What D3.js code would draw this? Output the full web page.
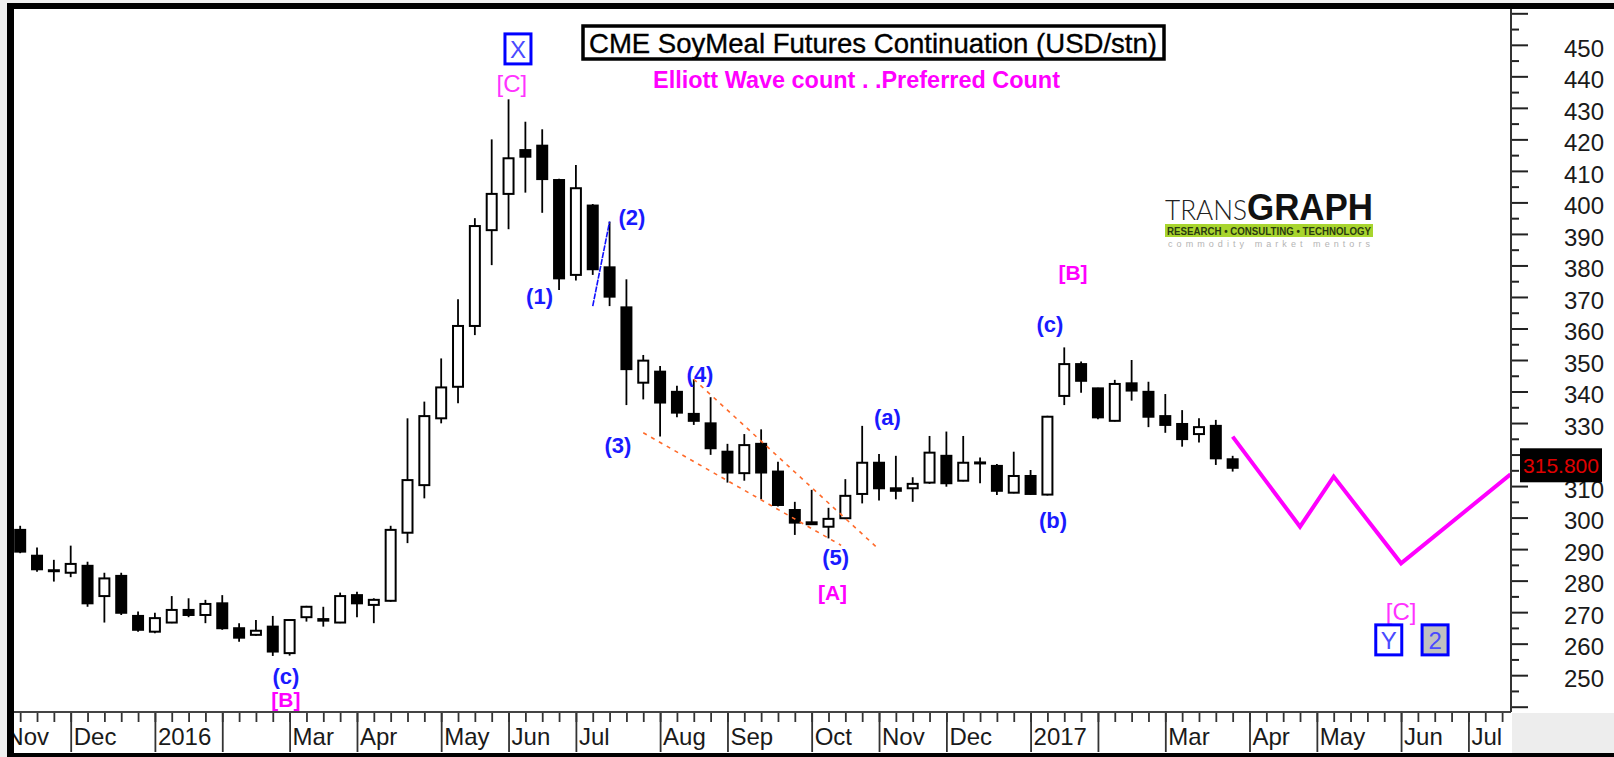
<!DOCTYPE html>
<html>
<head>
<meta charset="utf-8">
<script src="https://cdn.jsdelivr.net/npm/d3@7"></script>
<style>
body { margin: 0; background: #f0f0f0; }
svg text { font-family: "Liberation Sans", Arial, sans-serif; }
</style>
</head>
<body>
<script>
// weekly bars, week 0 = first week of Nov 2015
var firstWeek = 1;
var open  = [296.1,287.9,283.3,282.5,284.7,275.1,281.5,268.8,263.8,266.7,270.7,269.1,272.8,264.9,262.8,265.4,257.0,268.4,267.8,266.7,
             275.4,272.3,273.6,295.2,310.3,331.5,341.5,360.8,391.2,402.7,416.6,418.0,407.1,377.0,399.0,379.4,366.7,342.8,346.3,339.9,
             332.9,329.9,320.9,314.1,323.4,314.6,302.4,298.5,297.1,299.8,307.5,317.4,309.3,309.3,311.1,319.6,311.7,317.5,316.4,307.9,
             313.2,307.3,338.6,348.7,341.0,330.7,342.6,339.9,332.2,329.7,326.5,329.1,318.5];
var high  = [297.4,290.5,286.6,291.1,286.0,282.5,282.5,270.2,269.8,275.1,274.4,273.9,275.4,266.5,267.5,268.8,267.7,272.0,271.7,276.2,
             276.5,274.4,297.4,331.5,336.8,350.5,369.3,395.0,420.0,432.7,425.6,423.2,407.5,411.9,399.5,393.9,375.6,351.6,348.1,341.8,
             343.9,338.2,323.4,326.5,328.0,317.7,305.0,308.8,303.1,312.2,329.1,320.2,319.6,312.8,325.9,327.3,325.9,319.1,317.0,320.9,
             315.1,332.3,354.0,349.5,341.2,343.7,350.0,343.1,339.2,334.1,331.5,331.0,319.6];
var low   = [288.7,282.8,279.7,281.1,271.7,266.7,269.1,263.8,263.3,266.5,268.4,266.5,264.4,260.6,262.5,256.1,256.2,267.0,265.4,266.5,
             268.4,266.5,273.3,291.9,306.1,329.9,336.3,357.9,380.1,391.5,403.1,396.7,372.2,375.2,377.0,367.1,335.7,337.5,325.7,331.8,
             329.4,319.9,311.1,311.7,305.8,303.5,294.5,297.7,293.4,299.5,304.5,305.4,305.8,305.0,310.7,309.8,311.5,310.9,307.2,307.7,
             307.2,307.0,335.7,339.6,331.2,330.5,337.1,328.7,326.9,322.5,323.8,316.7,314.6];
var close = [289.2,283.6,283.2,285.3,272.8,280.7,269.8,264.4,268.1,270.7,269.1,272.6,264.9,261.9,264.1,257.5,267.5,271.7,267.3,275.1,
             272.8,273.9,296.1,311.9,332.2,341.3,360.8,392.5,402.7,414.0,414.5,407.4,375.9,404.5,378.8,370.1,347.1,349.8,336.5,333.3,
             330.7,322.0,314.3,323.0,314.3,304.0,298.4,297.9,299.6,306.9,317.4,309.3,308.5,310.7,320.6,310.9,317.4,317.3,308.5,313.2,
             307.5,332.0,348.7,343.4,331.8,342.4,340.3,332.0,329.4,324.9,328.7,318.8,315.8];
var lastPrice = 315.8;

// x axis: first bar of each month (week number) and its label
var monthWeek  = [0, 4, 9, 13, 17, 21, 26, 30, 34, 39, 43, 48, 52, 56, 61, 65, 69, 74, 78, 83, 87];
var monthLabel = ["Nov","Dec","2016","","Mar","Apr","May","Jun","Jul","Aug","Sep","Oct","Nov","Dec","2017","","Mar","Apr","May","Jun","Jul"];

// y axis (320 sits under the last price tag, so it gets no label)
var priceTicks = d3.range(240, 461, 10);
var priceMinor = d3.range(245, 460, 10);
var priceLabels = [250, 260, 270, 280, 290, 300, 310, 330, 340, 350, 360, 370, 380, 390, 400, 410, 420, 430, 440, 450];

// projected path (magenta)
var forecastWeek  = [73, 77, 79, 83, 89.5];
var forecastPrice = [325.7, 297.1, 313.0, 285.5, 313.7];

// orange channel and wave (2) line
var channelTop = [[41, 343.9], [52, 289.9]];
var channelBottom = [[38, 326.9], [49.75, 291.2]];
var wave2Line = [[35, 367.1], [36, 393.9]];

// wave labels: text, week, price (baseline), style
var waveLabels = [
  ["(1)", 31.84, 367.9, "blue"], ["(2)", 37.33, 392.7, "blue"], ["(3)", 36.5, 320.4, "blue"],
  ["(4)", 41.37, 342.9, "blue"], ["(5)", 49.43, 284.8, "blue"], ["[A]", 49.24, 273.7, "pink"],
  ["(a)", 52.5, 329.3, "blue"], ["(b)", 62.33, 296.6, "blue"], ["(c)", 62.15, 358.9, "blue"],
  ["[B]", 63.52, 375.3, "pink"], ["(c)", 16.78, 247.3, "blue"], ["[B]", 16.78, 239.8, "pink"],
  ["[C]", 30.2, 435.0, "pinkThin"], ["[C]", 83.0, 267.4, "pinkThin"]
];
// boxed degree labels: text, week, price (centre), fill
var boxLabels = [["X", 30.56, 448.7, "#ffffff"], ["Y", 82.27, 261.2, "#ffffff"], ["2", 85.02, 261.2, "#c0c0c0"]];

var W = 1614, H = 757;
var plot = {left: 14, right: 1511, top: 9, bottom: 712};

var x = d3.scaleLinear().domain([0, 89]).range([3.34, 1502.1]);
var y = d3.scaleLinear().domain([240, 460]).range([706.7, 13.3]);

var svg = d3.select("body").append("svg")
  .attr("width", W)
  .attr("height", H)
  .style("display", "block");

svg.append("rect").attr("x", 7).attr("y", 3).attr("width", W - 7).attr("height", H - 3).attr("fill", "#fff");
// grey corner under the price axis
svg.append("rect").attr("x", plot.right + 1).attr("y", plot.bottom + 1)
  .attr("width", W - plot.right).attr("height", 753 - plot.bottom - 1).attr("fill", "#ededed");

var defs = svg.append("defs");
defs.append("clipPath").attr("id", "plotClip").append("rect")
  .attr("x", plot.left).attr("y", plot.top)
  .attr("width", plot.right - plot.left).attr("height", plot.bottom - plot.top);
defs.append("clipPath").attr("id", "xAxisClip").append("rect")
  .attr("x", plot.left).attr("y", plot.bottom - 2)
  .attr("width", plot.right - plot.left).attr("height", 50);

// logo
var logo = svg.append("g");
logo.append("text").attr("x", 1165).attr("y", 220).attr("textLength", 82).attr("lengthAdjust", "spacingAndGlyphs")
  .style("font-family", "Lato, 'DejaVu Sans', sans-serif").style("font-weight", 300).style("font-size", "27px").attr("fill", "#222")
  .text("TRANS");
logo.append("text").attr("x", 1247).attr("y", 220).attr("textLength", 126).attr("lengthAdjust", "spacingAndGlyphs")
  .style("font-weight", "bold").style("font-size", "37px").attr("fill", "#111")
  .text("GRAPH");
logo.append("rect").attr("x", 1165).attr("y", 224).attr("width", 208).attr("height", 13).attr("fill", "#a8d52e");
logo.append("text").attr("x", 1167).attr("y", 234.5).attr("textLength", 204).attr("lengthAdjust", "spacingAndGlyphs")
  .style("font-weight", "bold").style("font-size", "10px").attr("fill", "#2a3a10")
  .text("RESEARCH \u2022 CONSULTING \u2022 TECHNOLOGY");
logo.append("text").attr("x", 1168).attr("y", 247).attr("textLength", 202).attr("lengthAdjust", "spacing")
  .style("font-size", "9px").attr("fill", "#b4b4b4")
  .text("commodity market mentors");

// title
svg.append("rect").attr("x", 583).attr("y", 26).attr("width", 581).attr("height", 33)
  .attr("fill", "#fff").attr("stroke", "#000").attr("stroke-width", 3.5);
svg.append("text").attr("x", 589).attr("y", 53).attr("textLength", 568).attr("lengthAdjust", "spacingAndGlyphs")
  .style("font-size", "27.5px").attr("fill", "#000")
  .attr("stroke", "#000").attr("stroke-width", 0.35)
  .text("CME SoyMeal Futures Continuation (USD/stn)");
svg.append("text").attr("x", 653).attr("y", 88).attr("textLength", 407).attr("lengthAdjust", "spacingAndGlyphs")
  .style("font-size", "23px").style("font-weight", "bold").attr("fill", "#ff00ff")
  .text("Elliott Wave count . .Preferred Count");

// candles
var bars = open.map(function(o, i) {
  return {week: firstWeek + i, open: o, high: high[i], low: low[i], close: close[i]};
});

var chart = svg.append("g").attr("clip-path", "url(#plotClip)");

var candle = chart.selectAll("g.candle")
  .data(bars)
  .enter().append("g")
  .attr("class", "candle");

candle.append("line")
  .attr("x1", function(d) { return x(d.week); })
  .attr("x2", function(d) { return x(d.week); })
  .attr("y1", function(d) { return y(d.high); })
  .attr("y2", function(d) { return y(d.low); })
  .attr("stroke", "#000")
  .attr("stroke-width", 1.8);

candle.append("rect")
  .attr("x", function(d) { return x(d.week) - 5; })
  .attr("width", 10)
  .attr("y", function(d) { return y(Math.max(d.open, d.close)); })
  .attr("height", function(d) { return Math.max(1, Math.abs(y(d.open) - y(d.close))); })
  .attr("fill", function(d) { return d.close >= d.open ? "#fff" : "#000"; })
  .attr("stroke", "#000")
  .attr("stroke-width", 2);

// channel lines
var line = d3.line()
  .x(function(d) { return x(d[0]); })
  .y(function(d) { return y(d[1]); });

[channelTop, channelBottom].forEach(function(c) {
  chart.append("path").attr("d", line(c))
    .attr("fill", "none").attr("stroke", "#ff6a2a").attr("stroke-width", 1.6)
    .attr("stroke-dasharray", "4,5");
});
chart.append("path").attr("d", line(wave2Line))
  .attr("fill", "none").attr("stroke", "#1010ff").attr("stroke-width", 1.6)
  .attr("stroke-dasharray", "6,1");

// projection
chart.append("path")
  .attr("d", line(forecastWeek.map(function(w, i) { return [w, forecastPrice[i]]; })))
  .attr("fill", "none").attr("stroke", "#ff00ff").attr("stroke-width", 4);

// wave labels
var labelStyle = {
  blue: {fill: "#1a1aff", weight: "bold", size: "22px"},
  pink: {fill: "#ff00ff", weight: "bold", size: "21px"},
  pinkThin: {fill: "#ff33ff", weight: "normal", size: "24px"}
};
svg.selectAll("text.wave")
  .data(waveLabels)
  .enter().append("text")
  .attr("class", "wave")
  .attr("x", function(d) { return x(d[1]); })
  .attr("y", function(d) { return y(d[2]); })
  .attr("text-anchor", "middle")
  .attr("fill", function(d) { return labelStyle[d[3]].fill; })
  .style("font-weight", function(d) { return labelStyle[d[3]].weight; })
  .style("font-size", function(d) { return labelStyle[d[3]].size; })
  .text(function(d) { return d[0]; });

var boxes = svg.selectAll("g.degree")
  .data(boxLabels)
  .enter().append("g")
  .attr("class", "degree")
  .attr("transform", function(d) { return "translate(" + x(d[1]) + "," + y(d[2]) + ")"; });
boxes.append("rect")
  .attr("x", -13).attr("y", -15).attr("width", 26).attr("height", 30)
  .attr("fill", function(d) { return d[3]; })
  .attr("stroke", "#0000ff").attr("stroke-width", 3);
boxes.append("text")
  .attr("y", 9).attr("text-anchor", "middle")
  .style("font-size", "24px").attr("fill", "#4a4aff")
  .text(function(d) { return d[0]; });

// x axis (clip on the outer group, transform on the inner one)
var xAxisG = svg.append("g")
  .attr("clip-path", "url(#xAxisClip)")
  .append("g")
  .attr("transform", "translate(0," + plot.bottom + ")");

var weekAxis = d3.axisBottom(x).tickValues(d3.range(0, 90)).tickSize(10).tickSizeOuter(0).tickFormat("");
var monthAxis = d3.axisBottom(x).tickValues(monthWeek).tickSize(40).tickSizeOuter(0)
  .tickFormat(function(d, i) { return monthLabel[i]; });

xAxisG.append("g").call(weekAxis);
xAxisG.append("g").call(monthAxis);
xAxisG.selectAll(".domain").remove();
xAxisG.selectAll(".tick line").attr("stroke", "#333").attr("stroke-width", 1.8);
xAxisG.selectAll(".tick text")
  .attr("x", 2.5).attr("y", 33).attr("dy", null)
  .style("text-anchor", "start").style("font-size", "24px").attr("fill", "#1a1a1a");

svg.append("line").attr("x1", plot.left).attr("x2", plot.right)
  .attr("y1", plot.bottom).attr("y2", plot.bottom)
  .attr("stroke", "#444").attr("stroke-width", 2);

// y axis
var yAxisG = svg.append("g").attr("transform", "translate(" + plot.right + ",0)");
var yAxis = d3.axisRight(y).tickValues(priceTicks).tickSize(17).tickSizeOuter(0)
  .tickFormat(function(d) { return priceLabels.indexOf(d) >= 0 ? d : ""; });
var yMinor = d3.axisRight(y).tickValues(priceMinor).tickSize(8).tickSizeOuter(0).tickFormat("");
yAxisG.append("g").call(yAxis);
yAxisG.append("g").call(yMinor);
yAxisG.selectAll(".domain").remove();
yAxisG.selectAll(".tick line").attr("stroke", "#222").attr("stroke-width", 2);
yAxisG.selectAll(".tick text")
  .attr("x", 93).attr("dy", "0.47em")
  .style("text-anchor", "end").style("font-size", "24px").attr("fill", "#1a1a1a");

svg.append("line").attr("x1", plot.right).attr("x2", plot.right)
  .attr("y1", plot.top).attr("y2", plot.bottom)
  .attr("stroke", "#333").attr("stroke-width", 2);

// last price tag
svg.append("rect").attr("x", 1520).attr("y", y(lastPrice) - 19.5).attr("width", 82).attr("height", 34).attr("fill", "#000");
svg.append("text").attr("x", 1561).attr("y", y(lastPrice) + 5).attr("text-anchor", "middle")
  .style("font-size", "21px").attr("fill", "#e00000")
  .text(d3.format(".3f")(lastPrice));

// frame
svg.append("rect").attr("x", 7).attr("y", 3).attr("width", 7).attr("height", H - 3).attr("fill", "#000");
svg.append("rect").attr("x", 7).attr("y", 3).attr("width", W - 7).attr("height", 6).attr("fill", "#000");
svg.append("rect").attr("x", 7).attr("y", 753).attr("width", W - 7).attr("height", 4).attr("fill", "#000");
</script>
</body>
</html>
